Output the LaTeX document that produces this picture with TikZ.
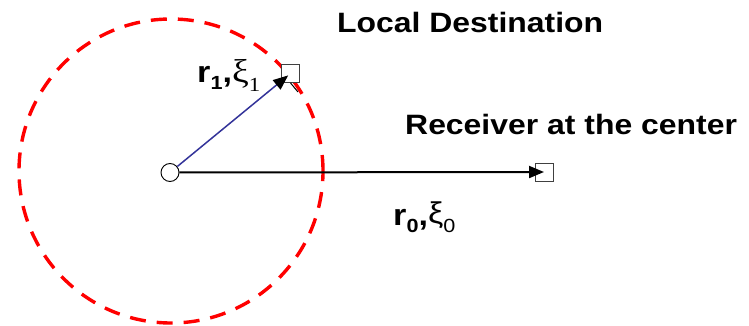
\documentclass[tikz,border=0pt]{standalone}
\usepackage{fontspec}
\setmainfont{Liberation Sans}
\newfontfamily\xifont{Liberation Serif}
\usepackage{graphicx}
\usetikzlibrary{arrows.meta}
\definecolor{linkblue}{RGB}{51,51,153}
\definecolor{zonered}{RGB}{255,0,0}
% text in the drawing is set a little wider than the font
\newcommand{\wide}[1]{\scalebox{1.14}[1]{#1}}

\begin{document}
\begin{tikzpicture}[x=1pt,y=-1pt,
  caption/.style={anchor=base west,inner sep=0pt,font=\fontsize{28}{30}\selectfont\bfseries},
  sym/.style={anchor=base west,inner sep=0pt,font=\fontsize{30}{32}\selectfont\bfseries},
  term/.style={draw=black!75,line width=0.9pt,fill=white,rectangle,minimum size=18pt,inner sep=0pt},
  rxnode/.style={draw=black,line width=0.9pt,fill=white,circle,minimum size=18pt,inner sep=0pt},
  link/.style={line width=2pt,-{Triangle[length=15pt,width=12pt,black]}}]
  \useasboundingbox (0,0) rectangle (749,326);
  %
  % local zone round the receiver
  \draw[zonered,line width=3.4pt,dash pattern=on 16pt off 11pt] (171,171) circle [radius=152pt];
  %
  \node[rxnode] (rx) at (170,172.5) {};
  \node[term] (dloc) at (290.5,73.5) {};
  \node[term] (dcen) at (544,172) {};
  \coordinate (tick) at (298,92);
  %
  \draw[link,linkblue,line width=1.5pt,shorten >=3pt] (rx) -- (dloc.center);
  \draw[link] (rx) -- (dcen.center);
  \draw[line width=1pt] (dloc.south) -- (tick);
  %
  \node[caption] (ldest) at (337,33) {\wide{Local Destination}};
  \node[caption] (rcen) at (405,135) {\wide{Receiver at the center}};
  \node[sym] (rone) at (197,83) {\wide{r\raisebox{-7pt}{\fontsize{19}{19}\selectfont 1},{\fontsize{33}{33}\selectfont\mdseries\xifont ξ}\raisebox{-9pt}{\fontsize{20}{20}\selectfont\mdseries\xifont 1}}};
  \node[sym] (rzero) at (393,225) {\wide{r\raisebox{-7pt}{\fontsize{19}{19}\selectfont 0},\raisebox{2pt}{\fontsize{30}{30}\selectfont\mdseries ξ}\raisebox{-7pt}{\fontsize{19}{19}\selectfont\mdseries 0}}};
\end{tikzpicture}
\end{document}
